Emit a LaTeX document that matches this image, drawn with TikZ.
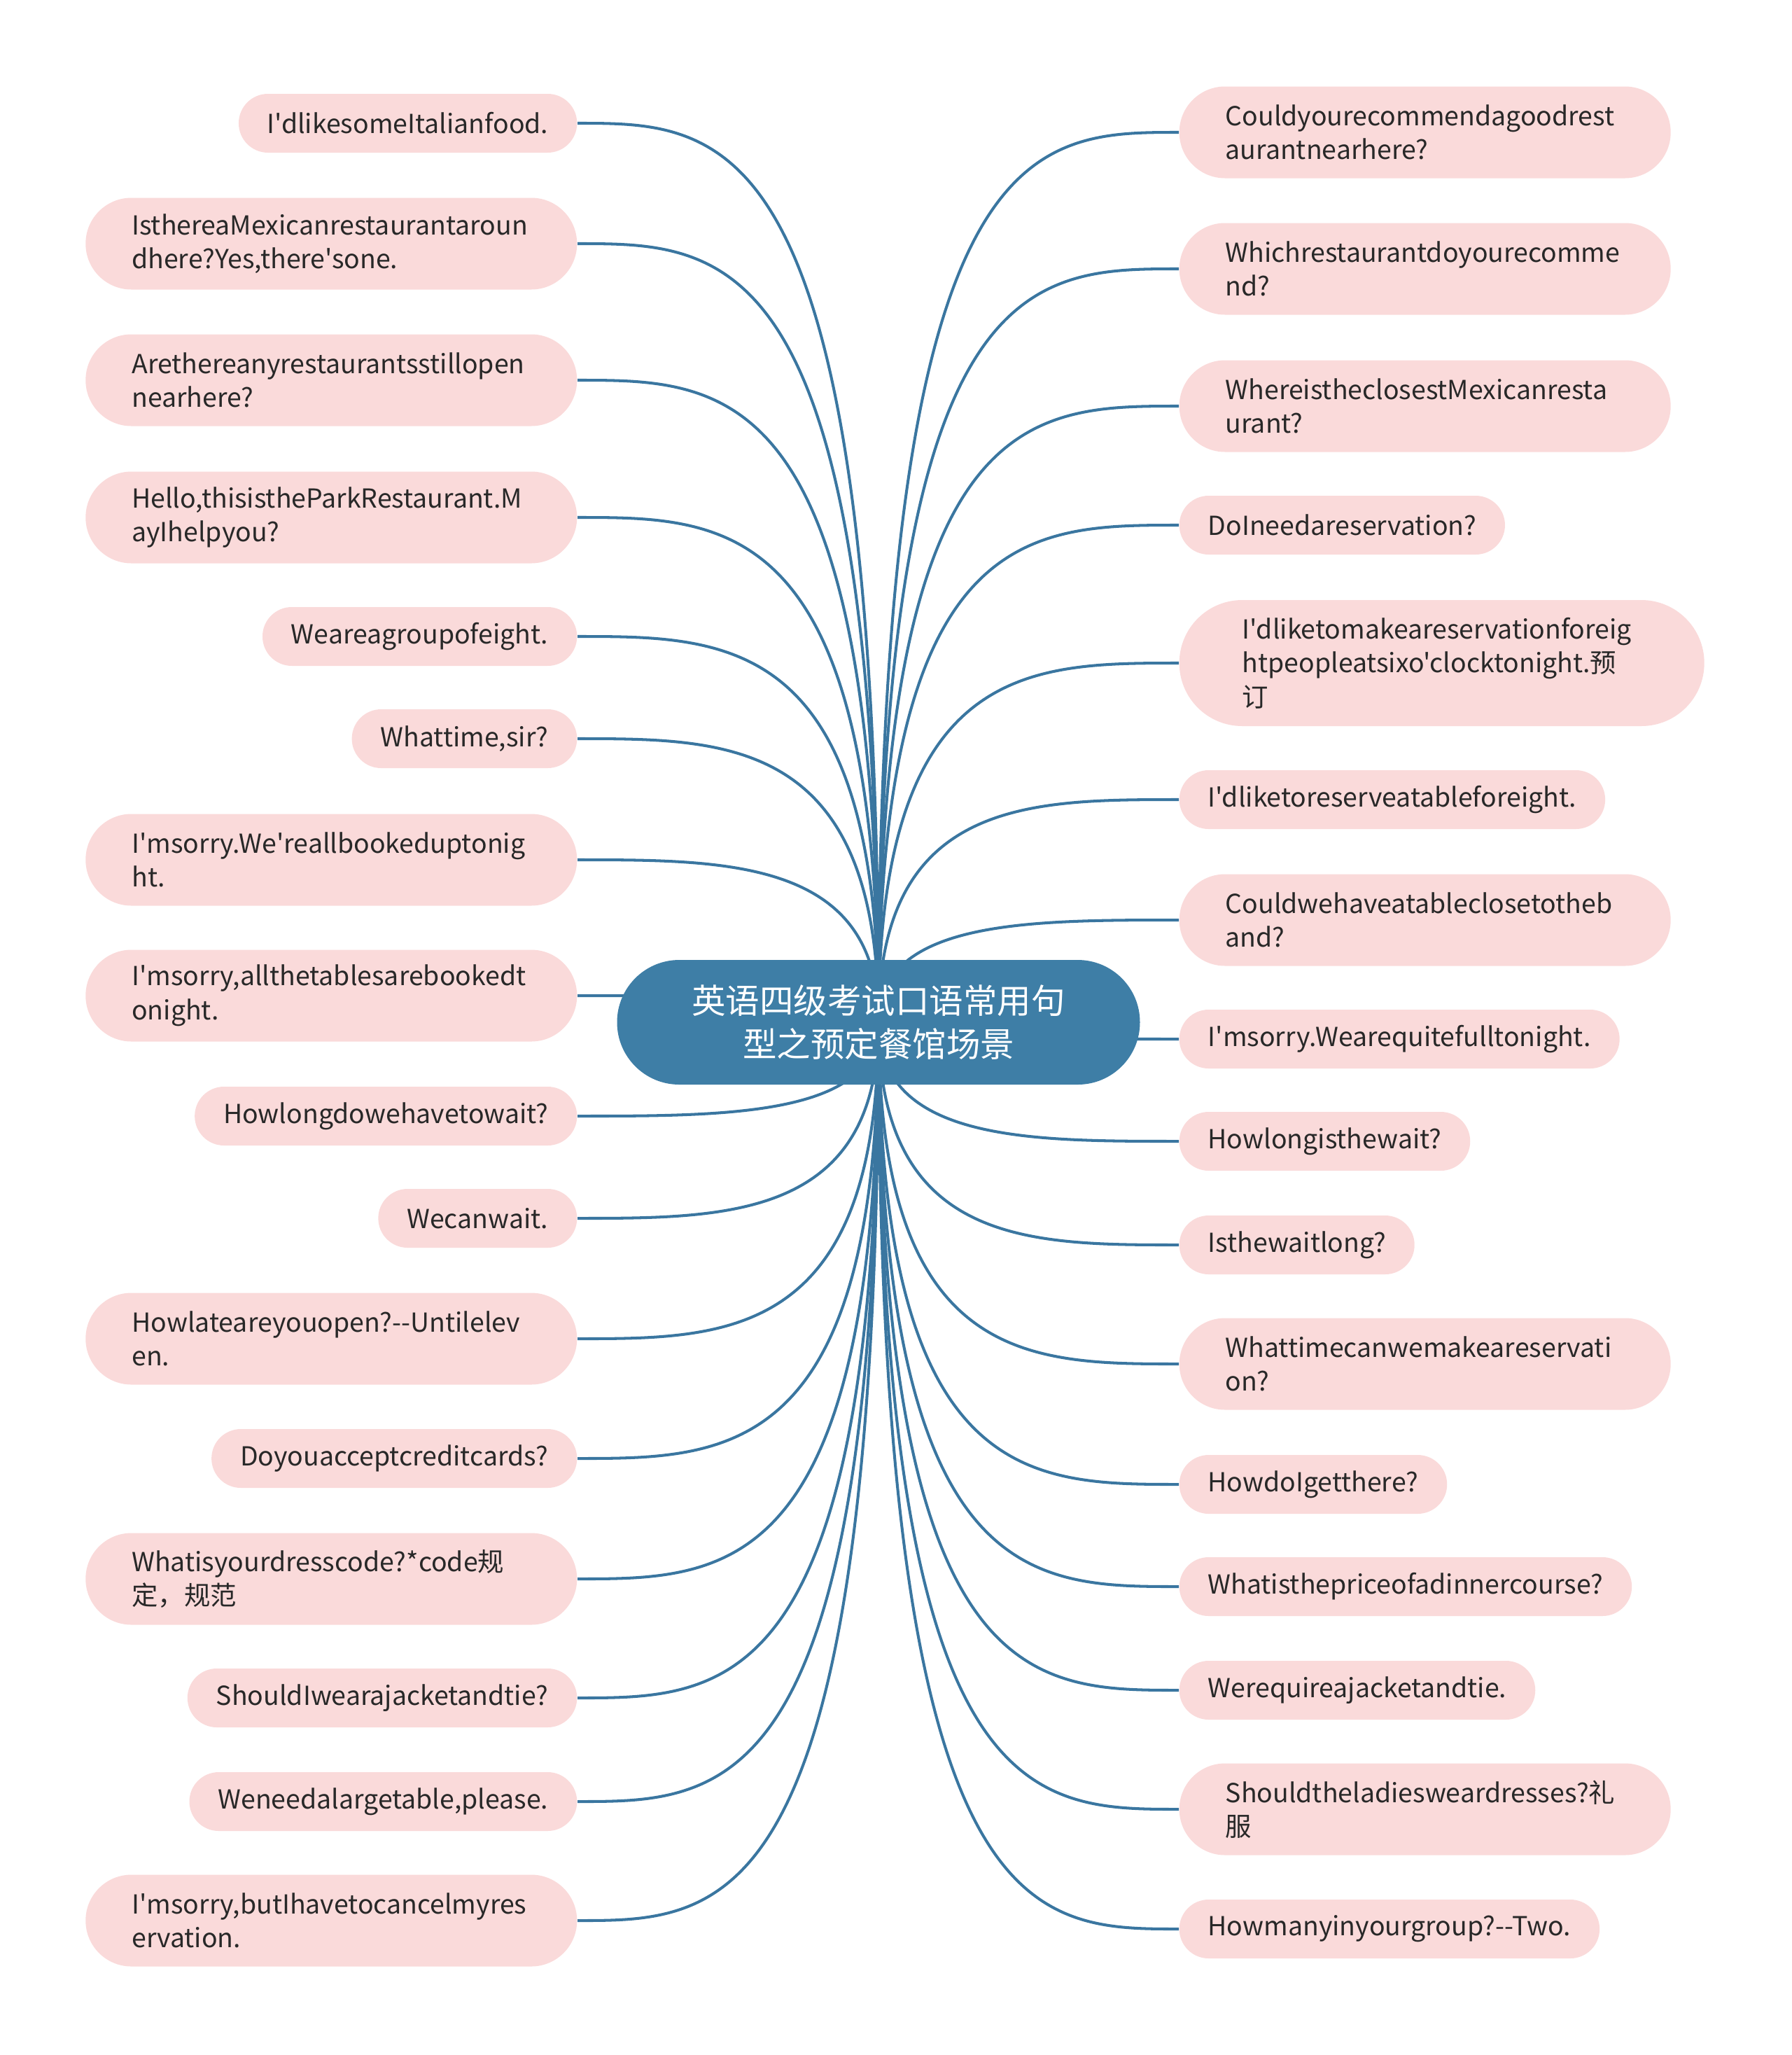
\documentclass[tikz,border=0pt]{standalone}
\usepackage{fontspec}
\usepackage{tikz}
\usetikzlibrary{calc,backgrounds}
\newfontfamily\cnfont{Noto Sans CJK SC}
\definecolor{rootblue}{RGB}{62,126,166}
\definecolor{linkblue}{RGB}{58,118,160}
\definecolor{leafpink}{RGB}{250,218,218}
\definecolor{inkgray}{RGB}{40,40,40}

\begin{document}
\begin{tikzpicture}[
  every node/.style={font=\cnfont},
  leaf/.style={rectangle, rounded corners=0.419cm, fill=leafpink, text=inkgray, inner xsep=0.41cm,
    inner ysep=0pt, minimum height=0.84cm, align=left, font=\cnfont\fontsize{10.65}{13.8}\selectfont},
  longleaf/.style={leaf, rounded corners=0.654cm, text width=5.70cm, inner xsep=0.66cm, minimum height=1.31cm},
  tallleaf/.style={longleaf, rounded corners=0.899cm, inner xsep=0.90cm, minimum height=1.80cm},
  branch/.style={linkblue, line width=1.15pt}]
\useasboundingbox (0,0) rectangle (25.6,-29.35);
% centre topic
\node[rectangle, rounded corners=0.889cm, fill=rootblue, text=white, minimum width=7.47cm,
  minimum height=1.78cm, align=center, font=\cnfont\fontsize{13.8}{17.6}\selectfont] (root)
  at (12.55,-14.60) {英语四级考试口语常用句\\型之预定餐馆场景};
% left column
\node[leaf, anchor=east] (a1) at (8.25,-1.76) {I'dlikesomeItalianfood.};
\node[longleaf, anchor=east] (a2) at (8.25,-3.48) {IsthereaMexicanrestaurantaroun\\dhere?Yes,there'sone.};
\node[longleaf, anchor=east] (a3) at (8.25,-5.43) {Arethereanyrestaurantsstillopen\\nearhere?};
\node[longleaf, anchor=east] (a4) at (8.25,-7.39) {Hello,thisistheParkRestaurant.M\\ayIhelpyou?};
\node[leaf, anchor=east] (a5) at (8.25,-9.09) {Weareagroupofeight.};
\node[leaf, anchor=east] (a6) at (8.25,-10.55) {Whattime,sir?};
\node[longleaf, anchor=east] (a7) at (8.25,-12.28) {I'msorry.We'reallbookeduptonig\\ht.};
\node[longleaf, anchor=east] (a8) at (8.25,-14.22) {I'msorry,allthetablesarebookedt\\onight.};
\node[leaf, anchor=east] (a9) at (8.25,-15.94) {Howlongdowehavetowait?};
\node[leaf, anchor=east] (a10) at (8.25,-17.40) {Wecanwait.};
\node[longleaf, anchor=east] (a11) at (8.25,-19.12) {\mbox{Howlateareyouopen?--Untilelev}\\en.};
\node[leaf, anchor=east] (a12) at (8.25,-20.83) {Doyouacceptcreditcards?};
\node[longleaf, anchor=east] (a13) at (8.25,-22.55) {Whatisyourdresscode?*code规\\定，规范};
\node[leaf, anchor=east] (a14) at (8.25,-24.25) {ShouldIwearajacketandtie?};
\node[leaf, anchor=east] (a15) at (8.25,-25.73) {Weneedalargetable,please.};
\node[longleaf, anchor=east] (a16) at (8.25,-27.43) {I'msorry,butIhavetocancelmyres\\ervation.};
% right column
\node[longleaf, anchor=west] (b1) at (16.84,-1.89) {Couldyourecommendagoodrest\\aurantnearhere?};
\node[longleaf, anchor=west] (b2) at (16.84,-3.84) {Whichrestaurantdoyourecomme\\nd?};
\node[longleaf, anchor=west] (b3) at (16.84,-5.80) {WhereistheclosestMexicanresta\\urant?};
\node[leaf, anchor=west] (b4) at (16.84,-7.50) {DoIneedareservation?};
\node[tallleaf, anchor=west] (b5) at (16.84,-9.47) {I'dliketomakeareservationforeig\\htpeopleatsixo'clocktonight.预\\订};
\node[leaf, anchor=west] (b6) at (16.84,-11.42) {I'dliketoreserveatableforeight.};
\node[longleaf, anchor=west] (b7) at (16.84,-13.14) {Couldwehaveatableclosetotheb\\and?};
\node[leaf, anchor=west] (b8) at (16.84,-14.84) {I'msorry.Wearequitefulltonight.};
\node[leaf, anchor=west] (b9) at (16.84,-16.30) {Howlongisthewait?};
\node[leaf, anchor=west] (b10) at (16.84,-17.78) {Isthewaitlong?};
\node[longleaf, anchor=west] (b11) at (16.84,-19.48) {Whattimecanwemakeareservati\\on?};
\node[leaf, anchor=west] (b12) at (16.84,-21.20) {HowdoIgetthere?};
\node[leaf, anchor=west] (b13) at (16.84,-22.66) {Whatisthepriceofadinnercourse?};
\node[leaf, anchor=west] (b14) at (16.84,-24.14) {Werequireajacketandtie.};
\node[longleaf, anchor=west] (b15) at (16.84,-25.84) {Shouldtheladiesweardresses?礼\\服};
\node[leaf, anchor=west] (b16) at (16.84,-27.55) {Howmanyinyourgroup?--Two.};
% branches, behind the nodes
\begin{pgfonlayer}{background}
\foreach \i in {1,...,16}{
  \draw[branch] (root.center) .. controls (root.center |- a\i.east)
    and ($(root.center |- a\i.east)!0.5!(a\i.east)$) .. (a\i.east);
  \draw[branch] (root.center) .. controls (root.center |- b\i.west)
    and ($(root.center |- b\i.west)!0.5!(b\i.west)$) .. (b\i.west);
}
\end{pgfonlayer}
\end{tikzpicture}
\end{document}
